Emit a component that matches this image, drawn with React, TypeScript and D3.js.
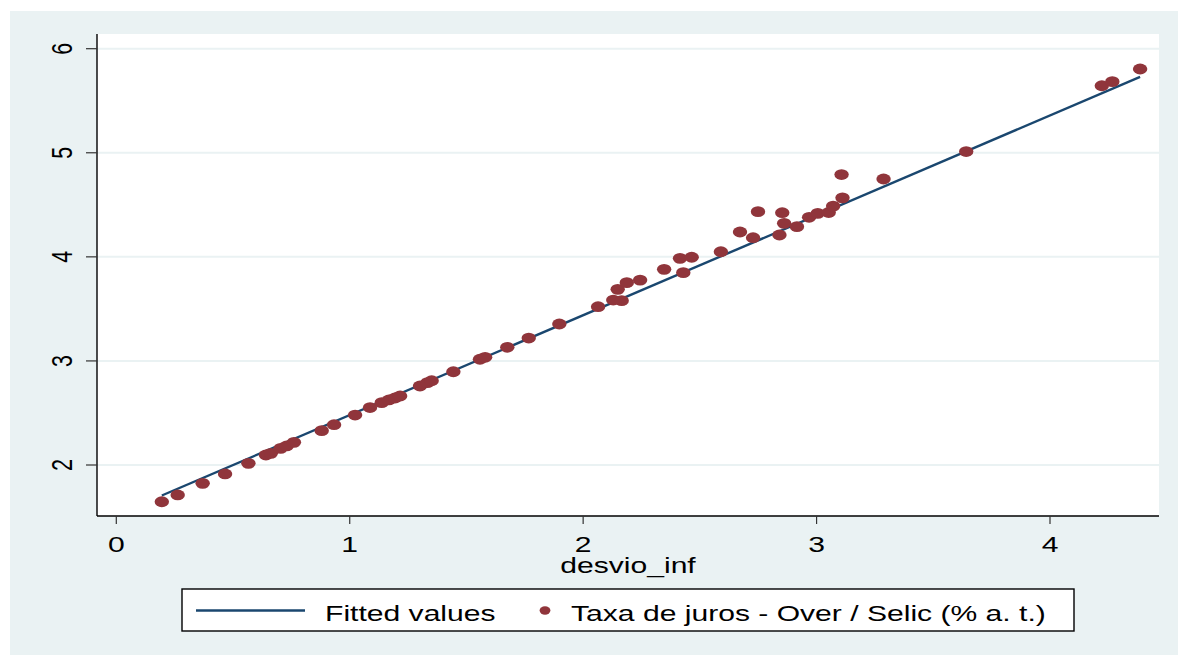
import React from "react";
import * as d3 from "d3";

// desvio_inf (x) and Taxa de juros - Over / Selic (% a. t.) (y)
const desvioInf = [
  0.195, 0.263, 0.37, 0.466, 0.566, 0.641, 0.662, 0.704, 0.73, 0.761,
  0.88, 0.933, 1.023, 1.087, 1.137, 1.168, 1.194, 1.216, 1.301, 1.333,
  1.351, 1.444, 1.558, 1.58, 1.675, 1.767, 1.898, 2.064, 2.129, 2.165,
  2.148, 2.187, 2.244, 2.347, 2.415, 2.465, 2.429, 2.59, 2.672, 2.728,
  2.749, 2.841, 2.853, 2.861, 2.916, 2.968, 3.005, 3.052, 3.071, 3.107,
  3.111, 3.287, 3.641, 4.222, 4.267, 4.386,
];
const taxaJuros = [
  1.647, 1.712, 1.824, 1.914, 2.016, 2.096, 2.112, 2.16, 2.183, 2.218,
  2.33, 2.387, 2.48, 2.552, 2.599, 2.625, 2.644, 2.663, 2.759, 2.791,
  2.81, 2.896, 3.016, 3.035, 3.131, 3.22, 3.355, 3.521, 3.585, 3.579,
  3.688, 3.752, 3.777, 3.88, 3.986, 3.996, 3.848, 4.049, 4.239, 4.184,
  4.434, 4.21, 4.424, 4.322, 4.29, 4.38, 4.418, 4.426, 4.488, 4.791,
  4.567, 4.748, 5.012, 5.644, 5.683, 5.805,
];

// Fitted values at the ends of the data range
const fitX = [0.195, 4.386];
const fitY = [1.707, 5.729];

const xTicks = [0, 1, 2, 3, 4];
const yTicks = [2, 3, 4, 5, 6];

const xTitle = "desvio_inf";
const legendLine = "Fitted values";
const legendDots = "Taxa de juros - Over / Selic (% a. t.)";

const W = 1178;
const H = 655;
const BG = "#eaf2f3";
const LINE = "#1a476f";
const DOT = "#90353b";
const FONT = "'Liberation Sans', Arial, sans-serif";
const SX = 1.4; // horizontal stretch of the exported graph
const FS = 21.5;

const plot = { left: 97, top: 34, right: 1159, bottom: 516 };

export default function App() {
  const x = d3.scaleLinear().domain([0, 4]).range([116.3, 1050]);
  const y = d3.scaleLinear().domain([2, 6]).range([465, 48.7]);

  const fitPath = d3
    .line<number>()
    .x((_, i) => x(fitX[i]))
    .y((d) => y(d))(fitY);

  const txt = (
    px: number,
    py: number,
    s: string,
    anchor: "start" | "middle" | "end",
    rotate = false,
    size = FS
  ) => (
    <text
      key={`${s}-${px}-${py}`}
      transform={`translate(${px},${py}) scale(${SX},1)${rotate ? " rotate(-90)" : ""}`}
      textAnchor={anchor}
      fontFamily={FONT}
      fontSize={size}
      fill="#000"
    >
      {s}
    </text>
  );

  return (
    <svg
      width={W}
      height={H}
      style={{ position: "absolute", left: 0, top: 0, display: "block" }}
    >
      <rect x={0} y={0} width={W} height={H} fill="#fff" />
      <rect x={10} y={11} width={W - 10} height={H - 11} fill={BG} />
      <rect
        x={plot.left}
        y={plot.top}
        width={plot.right - plot.left}
        height={plot.bottom - plot.top}
        fill="#fff"
      />

      {/* horizontal grid */}
      {yTicks.map((t) => (
        <line
          key={`g${t}`}
          x1={plot.left}
          x2={plot.right}
          y1={y(t)}
          y2={y(t)}
          stroke={BG}
          strokeWidth={2}
        />
      ))}

      {/* fitted line */}
      <path d={fitPath ?? ""} fill="none" stroke={LINE} strokeWidth={2.4} />

      {/* observations */}
      {desvioInf.map((d, i) => (
        <ellipse
          key={`p${i}`}
          cx={x(d)}
          cy={y(taxaJuros[i])}
          rx={7.2}
          ry={5.4}
          fill={DOT}
        />
      ))}

      {/* axes */}
      <line x1={plot.left} x2={plot.left} y1={plot.top} y2={plot.bottom} stroke="#000" strokeWidth={1.4} />
      <line x1={plot.left} x2={plot.right} y1={plot.bottom} y2={plot.bottom} stroke="#000" strokeWidth={1.4} />

      {yTicks.map((t) => (
        <g key={`yt${t}`}>
          <line x1={plot.left - 11} x2={plot.left} y1={y(t)} y2={y(t)} stroke="#333" strokeWidth={1.2} />
          {txt(72, y(t), String(t), "middle", true)}
        </g>
      ))}
      {xTicks.map((t) => (
        <g key={`xt${t}`}>
          <line x1={x(t)} x2={x(t)} y1={plot.bottom} y2={plot.bottom + 8} stroke="#333" strokeWidth={1.2} />
          {txt(x(t), 552, String(t), "middle")}
        </g>
      ))}
      {txt(628, 573, xTitle, "middle")}

      {/* legend */}
      <rect x={182} y={589} width={892} height={42} fill="#fff" stroke="#000" strokeWidth={1.4} />
      <line x1={196} x2={305} y1={610.5} y2={610.5} stroke={LINE} strokeWidth={2.4} />
      {txt(325, 621, legendLine, "start")}
      <ellipse cx={545} cy={610.5} rx={5.4} ry={4.2} fill={DOT} />
      {txt(571, 621, legendDots, "start")}
    </svg>
  );
}
